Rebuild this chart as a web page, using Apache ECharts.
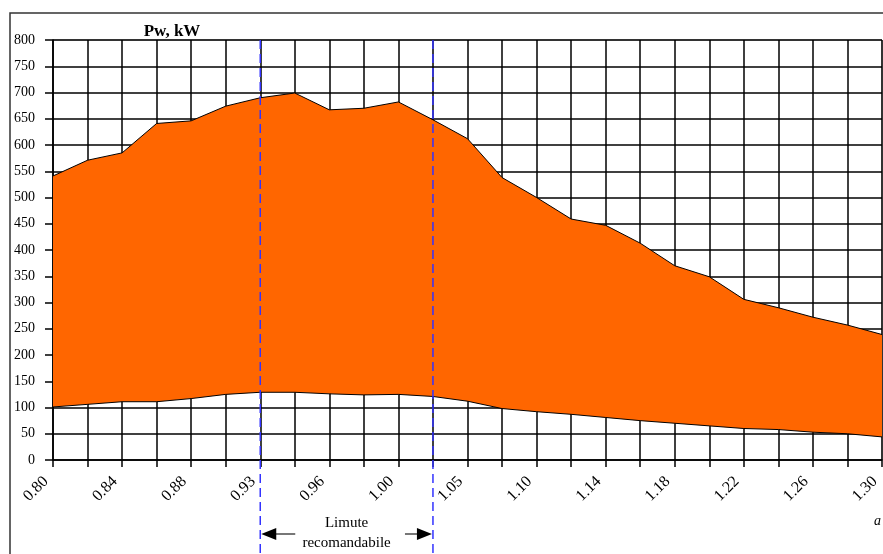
<!DOCTYPE html>
<html>
<head>
<meta charset="utf-8">
<script src="https://cdn.jsdelivr.net/npm/echarts@6/dist/echarts.min.js"></script>
<style>
html,body{margin:0;padding:0;background:#fff;}
#c{width:883px;height:554px;}
</style>
</head>
<body>
<div id="c"></div>
<script>
// categories (coefficient a); only every second one is labelled in the picture
const categories = ['0.80','0.82','0.84','0.86','0.88','0.90','0.93','0.95','0.96','0.98','1.00','1.02','1.05','1.07','1.10','1.12','1.14','1.16','1.18','1.20','1.22','1.24','1.26','1.28','1.30'];
// upper and lower envelope of Pw, kW
const upperValues = [541, 571, 585, 641, 646, 674, 690, 699, 667, 670, 682, 648, 612, 538, 500, 459, 447, 413, 370, 349, 306, 290, 272, 257, 239];
const lowerValues = [101, 106, 111, 111, 117, 125, 129, 129, 126, 124, 125, 121, 112, 98, 92, 87, 81, 75, 70, 65, 60, 58, 53, 50, 44];
const yTicks = [0, 50, 100, 150, 200, 250, 300, 350, 400, 450, 500, 550, 600, 650, 700, 750, 800];
const limits = ['0.93', '1.02'];
const title = 'Pw, kW';
const xName = 'a';
const limitText = ['Limute', 'recomandabile'];

const FONT = '"Liberation Serif", "DejaVu Serif", serif';
const bandValues = upperValues.map((u, i) => u - lowerValues[i]);

const chart = echarts.init(document.getElementById('c'), null, {renderer: 'canvas'});
chart.setOption({
  animation: false,
  backgroundColor: '#fff',
  grid: {left: 53, right: 1, top: 40, bottom: 94, show: true, borderColor: '#999', borderWidth: 1, containLabel: false, outerBoundsMode: 'none'},
  xAxis: {
    type: 'category',
    data: categories,
    boundaryGap: false,
    axisLine: {show: true, lineStyle: {color: '#000', width: 1.5}},
    axisTick: {show: true, interval: 0, length: 7, lineStyle: {color: '#000', width: 1.5}},
    splitLine: {show: true, interval: 0, lineStyle: {color: '#000', width: 1.5}},
    axisLabel: {interval: 1, rotate: 45, margin: 12, padding: [0, 10, 0, 0], fontFamily: FONT, fontSize: 16, color: '#000'}
  },
  yAxis: {
    type: 'value',
    min: yTicks[0],
    max: yTicks[yTicks.length - 1],
    interval: yTicks[1] - yTicks[0],
    axisLine: {show: true, lineStyle: {color: '#000', width: 1.5}},
    axisTick: {show: true, length: 8, lineStyle: {color: '#000', width: 1.5}},
    splitLine: {show: true, lineStyle: {color: '#000', width: 1.5}},
    axisLabel: {margin: 18, fontFamily: FONT, fontSize: 14, color: '#000'}
  },
  series: [
    {
      name: 'lower', type: 'line', stack: 'pw', data: lowerValues,
      symbol: 'none', lineStyle: {color: '#000', width: 1}, z: 3
    },
    {
      name: 'band', type: 'line', stack: 'pw', data: bandValues,
      symbol: 'none', lineStyle: {color: '#000', width: 1},
      areaStyle: {color: '#FF6600', opacity: 1}, z: 2
    }
  ]
});

const xL = chart.convertToPixel({xAxisIndex: 0}, limits[0]);
const xR = chart.convertToPixel({xAxisIndex: 0}, limits[1]);
const yTop = chart.convertToPixel({yAxisIndex: 0}, yTicks[yTicks.length - 1]);
const arrowY = 534;
const mid = (xL + xR) / 2;

chart.setOption({
  graphic: [
    {type: 'rect', shape: {x: 10, y: 13, width: 900, height: 600}, style: {fill: 'none', stroke: '#333', lineWidth: 1.5}, z: 100},
    {type: 'text', x: 172, y: 32, style: {text: title, font: 'bold 17px ' + FONT, fill: '#000', align: 'center', verticalAlign: 'middle'}, z: 100},
    {type: 'text', x: 874, y: 521, style: {text: xName, font: 'italic 14px ' + FONT, fill: '#000', align: 'left', verticalAlign: 'middle'}, z: 100},
    {type: 'line', shape: {x1: xL, y1: yTop, x2: xL, y2: 560}, style: {stroke: '#3333ff', lineWidth: 1.5, lineDash: [9, 5]}, z: 100},
    {type: 'line', shape: {x1: xR, y1: yTop, x2: xR, y2: 560}, style: {stroke: '#3333ff', lineWidth: 1.5, lineDash: [9, 5]}, z: 100},
    {type: 'line', shape: {x1: xL + 14, y1: arrowY, x2: xL + 35, y2: arrowY}, style: {stroke: '#777', lineWidth: 2}, z: 100},
    {type: 'polygon', shape: {points: [[xL + 1, arrowY], [xL + 16, arrowY - 6], [xL + 16, arrowY + 6]]}, style: {fill: '#000'}, z: 100},
    {type: 'line', shape: {x1: xR - 28, y1: arrowY, x2: xR - 14, y2: arrowY}, style: {stroke: '#777', lineWidth: 2}, z: 100},
    {type: 'polygon', shape: {points: [[xR - 1, arrowY], [xR - 16, arrowY - 6], [xR - 16, arrowY + 6]]}, style: {fill: '#000'}, z: 100},
    {type: 'text', x: mid, y: 523, style: {text: limitText[0], font: '15px ' + FONT, fill: '#000', align: 'center', verticalAlign: 'middle'}, z: 100},
    {type: 'text', x: mid, y: 543, style: {text: limitText[1], font: '15px ' + FONT, fill: '#000', align: 'center', verticalAlign: 'middle'}, z: 100}
  ]
});
</script>
</body>
</html>
